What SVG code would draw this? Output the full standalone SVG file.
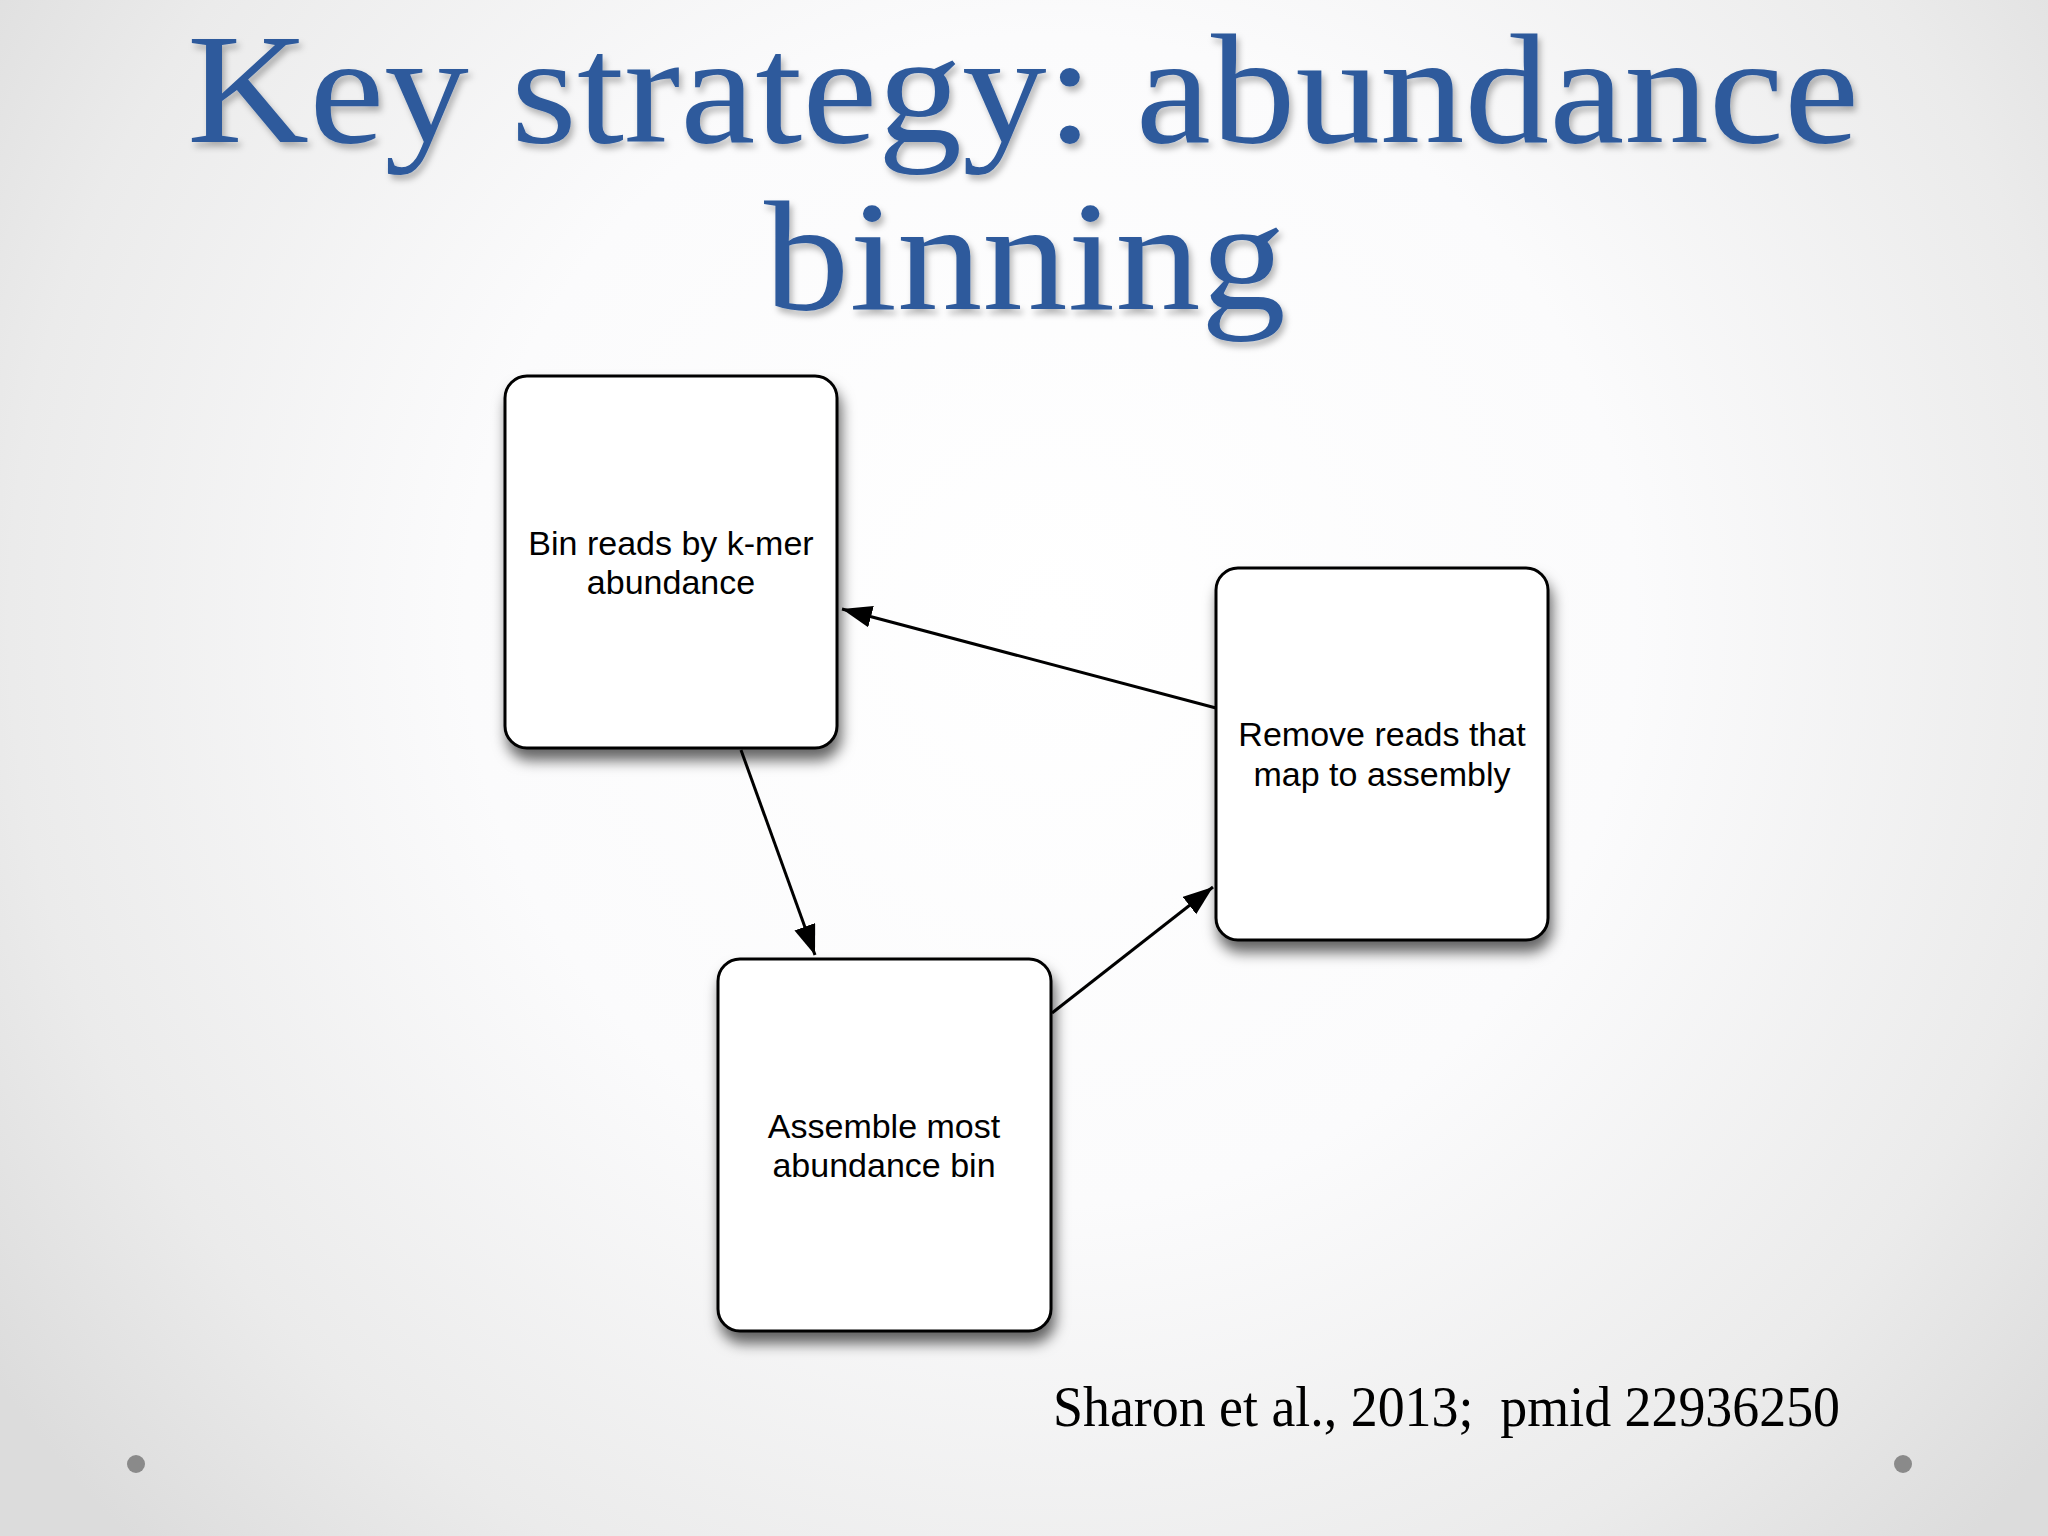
<svg xmlns="http://www.w3.org/2000/svg" width="2048" height="1536" viewBox="0 0 2048 1536">
  <defs>
    <radialGradient id="bg" cx="1050" cy="620" r="1300" gradientUnits="userSpaceOnUse">
      <stop offset="0" stop-color="#ffffff"/>
      <stop offset="0.45" stop-color="#fbfbfc"/>
      <stop offset="0.8" stop-color="#ebebeb"/>
      <stop offset="1" stop-color="#dcdcdc"/>
    </radialGradient>
    <filter id="boxShadow" x="-20%" y="-20%" width="140%" height="150%">
      <feDropShadow dx="3" dy="11" stdDeviation="7" flood-color="#000" flood-opacity="0.6"/>
    </filter>
    <filter id="titleShadow" x="-5%" y="-20%" width="110%" height="140%">
      <feDropShadow dx="3" dy="5" stdDeviation="3" flood-color="#000" flood-opacity="0.28"/>
    </filter>
    <marker id="arrow" markerUnits="userSpaceOnUse" markerWidth="32" markerHeight="24" refX="30" refY="11" orient="auto">
      <path d="M0,0 L30,11 L0,22 Z" fill="#000"/>
    </marker>
    <style>
      .box { fill: #ffffff; stroke: #000; stroke-width: 3; filter: url(#boxShadow); }
      .label { font-family: "Liberation Sans", Arial, sans-serif; font-size: 34px; fill: #000; text-anchor: middle; }
      .title { font-family: "Liberation Serif", "Times New Roman", serif; font-size: 156px; fill: #2e5a9c; filter: url(#titleShadow); }
      .cite { font-family: "Liberation Serif", "Times New Roman", serif; font-size: 56px; fill: #000; }
      .conn { stroke: #000; stroke-width: 3; fill: none; marker-end: url(#arrow); }
      .dot { fill: #8a8a8a; }
    </style>
  </defs>

  <rect x="0" y="0" width="2048" height="1536" fill="url(#bg)"/>

  <g id="title">
    <text class="title" x="187" y="142" textLength="1672" lengthAdjust="spacingAndGlyphs">Key strategy: abundance</text>
    <text class="title" x="764" y="309" textLength="522" lengthAdjust="spacingAndGlyphs">binning</text>
  </g>

  <g id="connectors">
    <line class="conn" x1="1216" y1="708" x2="842" y2="609"/>
    <line class="conn" x1="741" y1="750" x2="815" y2="955"/>
    <line class="conn" x1="1052" y1="1013" x2="1213" y2="887"/>
  </g>

  <g id="node-bin">
    <rect class="box" x="505" y="376" width="332" height="372" rx="22" ry="22"/>
    <text class="label" x="671" y="555">Bin reads by k-mer</text>
    <text class="label" x="671" y="594">abundance</text>
  </g>

  <g id="node-remove">
    <rect class="box" x="1216" y="568" width="332" height="372" rx="22" ry="22"/>
    <text class="label" x="1382" y="746">Remove reads that</text>
    <text class="label" x="1382" y="786">map to assembly</text>
  </g>

  <g id="node-assemble">
    <rect class="box" x="718" y="959" width="333" height="372" rx="22" ry="22"/>
    <text class="label" x="884" y="1138">Assemble most</text>
    <text class="label" x="884" y="1177">abundance bin</text>
  </g>

  <g id="citation">
    <text class="cite" x="1053" y="1426" xml:space="preserve" textLength="787" lengthAdjust="spacingAndGlyphs">Sharon et al., 2013;  pmid 22936250</text>
  </g>

  <g id="bullets">
    <circle class="dot" cx="136" cy="1464" r="9"/>
    <circle class="dot" cx="1903" cy="1464" r="9"/>
  </g>
</svg>
